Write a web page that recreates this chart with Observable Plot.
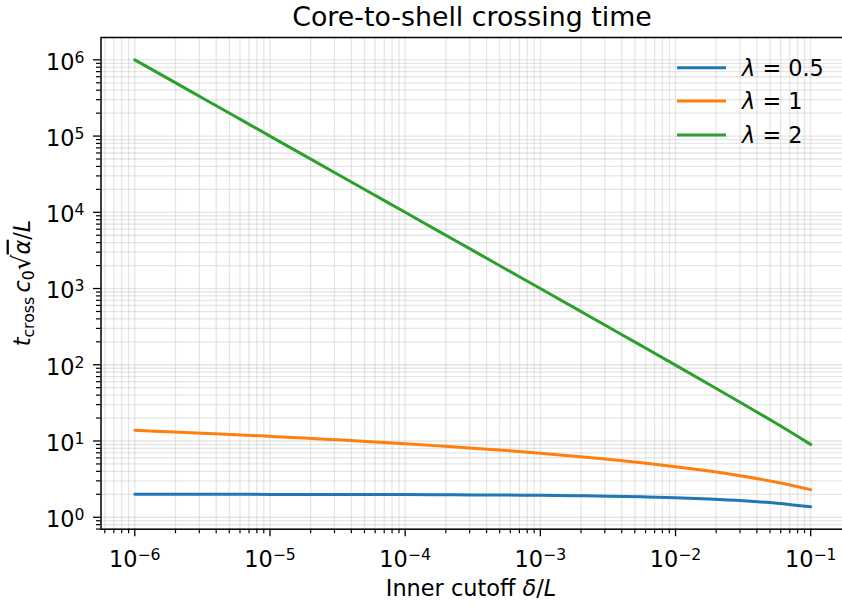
<!DOCTYPE html>
<html><head><meta charset="utf-8">
<script src="https://cdn.jsdelivr.net/npm/d3@7"></script>
<script src="https://cdn.jsdelivr.net/npm/@observablehq/plot@0.6"></script>
<style>
html,body{margin:0;padding:0;background:#fff}
svg{font-family:"DejaVu Sans",sans-serif}
</style>
</head><body><div id="chart"></div>
<script>
// ---- data ----
const delta = [1e-6, 1.778e-6, 3.162e-6, 5.623e-6, 1e-5, 1.778e-5, 3.162e-5, 5.623e-5,
  1e-4, 1.778e-4, 3.162e-4, 5.623e-4, 1e-3, 1.778e-3, 3.162e-3, 5.623e-3,
  1e-2, 1.778e-2, 3.162e-2, 5.623e-2, 1e-1];
const tLambda05 = [1.998, 1.997, 1.996, 1.995, 1.994, 1.992, 1.989, 1.985,
  1.98, 1.973, 1.964, 1.953, 1.937, 1.916, 1.888, 1.850,
  1.80, 1.733, 1.644, 1.526, 1.368];
const tLambda1 = [13.82, 13.24, 12.66, 12.09, 11.51, 10.94, 10.36, 9.79,
  9.21, 8.63, 8.06, 7.48, 6.91, 6.33, 5.76, 5.18,
  4.61, 4.03, 3.45, 2.88, 2.30];
const tLambda2 = [999999, 562340, 316227, 177827, 99999, 56233, 31622, 17782,
  9999, 5622, 3161, 1777, 999, 561, 315, 176.8,
  99, 55.2, 30.6, 16.8, 9.0];
const seriesKeys = ["0.5", "1", "2"];
const seriesColors = ["#1f77b4", "#ff7f0e", "#2ca02c"];
const xMajorTicks = [1e-6, 1e-5, 1e-4, 1e-3, 1e-2, 1e-1];
const yMajorTicks = [1, 10, 100, 1e3, 1e4, 1e5, 1e6];
const titleText = "Core-to-shell crossing time";

// ---- build table ----
const seriesValues = [tLambda05, tLambda1, tLambda2];
const rows = [];
seriesKeys.forEach((k, i) => delta.forEach((d, j) => rows.push({delta: d, t: seriesValues[i][j], lambda: k})));

const minorOf = (majors, lo, hi) => {
  const out = [];
  const first = majors[0] / 10;
  for (const m of [first, ...majors]) for (let k = 2; k <= 9; k++) {
    const v = m * k; if (v > lo && v < hi) out.push(v);
  }
  return out;
};
const xDomain = [10 ** -6.25, 10 ** -0.75];
const yDomain = [10 ** -0.157, 10 ** 6.293];
const xMinor = minorOf(xMajorTicks, ...xDomain);
const yMinor = minorOf(yMajorTicks, ...yDomain);

const FS = 22.4;
const expFmt = d => { const e = Math.round(Math.log10(d)); return e < 0 ? "\u2212" + (-e) : String(e); };
const gridStyle = {stroke: "#b0b0b0", strokeOpacity: 0.32, strokeWidth: 1.3};

const chart = Plot.plot({
  width: 842, height: 606,
  marginTop: 37, marginLeft: 100.5, marginRight: -2, marginBottom: 77.3,
  style: {fontFamily: "DejaVu Sans", fontSize: FS + "px", background: "white", color: "black", overflow: "visible"},
  x: {type: "log", domain: xDomain},
  y: {type: "log", domain: yDomain},
  color: {domain: seriesKeys, range: seriesColors},
  marks: [
    Plot.gridX(xMinor, gridStyle),
    Plot.gridY(yMinor, gridStyle),
    Plot.gridX(xMajorTicks, gridStyle),
    Plot.gridY(yMajorTicks, gridStyle),
    Plot.line(rows, {x: "delta", y: "t", z: "lambda", stroke: "lambda", strokeWidth: 3, curve: "monotone-x"}),
    Plot.axisX(xMinor, {tickSize: 4.5, strokeWidth: 1.2, tickFormat: () => "", label: null}),
    Plot.axisY(yMinor, {tickSize: 4.5, strokeWidth: 1.2, tickFormat: () => "", label: null}),
    Plot.axisX(xMajorTicks, {tickSize: 7.5, strokeWidth: 1.3, tickPadding: 8, tickFormat: expFmt, label: null, fontSize: FS}),
    Plot.axisY(yMajorTicks, {tickSize: 7.5, strokeWidth: 1.3, tickPadding: 9, tickFormat: expFmt, label: null, fontSize: FS}),
    Plot.frame({stroke: "black", strokeWidth: 1.5})
  ]
});
document.getElementById("chart").appendChild(chart);

const svg = d3.select(chart);
// superscript tick labels 10^n
function supify(sel, shiftDown) {
  sel.each(function () {
    const t = d3.select(this);
    const e = t.text();
    if (!e) { t.remove(); return; }
    t.text(null);
    t.append("tspan").attr("dy", shiftDown).text("10");
    t.append("tspan").attr("dy", "-0.45em").attr("font-size", "0.7em").text(e);
  });
}
supify(svg.selectAll('g[aria-label="x-axis tick label"] text'), "0.3em");
supify(svg.selectAll('g[aria-label="y-axis tick label"] text'), "0.12em");

// title
svg.append("text").attr("x", 472).attr("y", 26).attr("text-anchor", "middle")
  .attr("font-size", 26.8).attr("fill", "black").text(titleText);

// x label
const xl = svg.append("text").attr("x", 471).attr("y", 596).attr("text-anchor", "middle")
  .attr("font-size", FS).attr("fill", "black");
xl.append("tspan").text("Inner cutoff ");
xl.append("tspan").attr("font-style", "italic").text("\u03b4");
xl.append("tspan").text("/");
xl.append("tspan").attr("font-style", "italic").text("L");

// y label
const yl = svg.append("text").attr("transform", "translate(30,283) rotate(-90)")
  .attr("text-anchor", "middle").attr("font-size", FS).attr("fill", "black");
yl.append("tspan").attr("font-style", "italic").text("t");
yl.append("tspan").attr("font-size", "0.7em").attr("dy", "0.25em").text("cross");
yl.append("tspan").attr("font-style", "italic").attr("dy", "-0.175em").attr("dx", "0.2em").text("c");
yl.append("tspan").attr("font-size", "0.7em").attr("dy", "0.25em").text("0");
yl.append("tspan").attr("dy", "-0.175em").attr("font-size", "1.1em").text("\u221a");
yl.append("tspan").attr("font-style", "italic").style("text-decoration", "overline").text("\u03b1");
yl.append("tspan").text("/");
yl.append("tspan").attr("font-style", "italic").text("L");

// legend
const legendY = [67.7, 101, 135];
seriesKeys.forEach((k, i) => {
  svg.append("line").attr("x1", 677).attr("x2", 726).attr("y1", legendY[i]).attr("y2", legendY[i])
    .attr("stroke", seriesColors[i]).attr("stroke-width", 3);
  const tx = svg.append("text").attr("x", 742).attr("y", legendY[i] + 8).attr("text-anchor", "start")
    .attr("font-size", FS).attr("fill", "black");
  tx.append("tspan").attr("font-style", "italic").text("\u03bb");
  tx.append("tspan").text(" = " + k);
});
</script>
</body></html>
